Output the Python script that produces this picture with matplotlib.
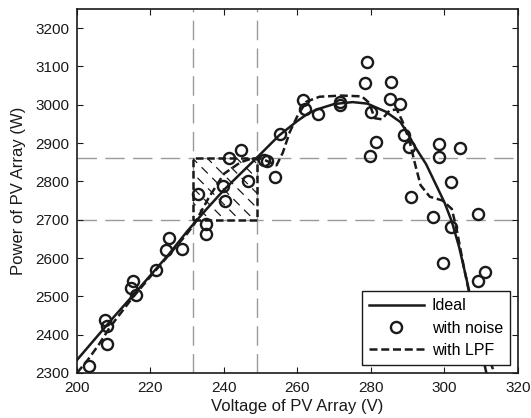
import numpy as np
import matplotlib
matplotlib.use('Agg')
import matplotlib.pyplot as plt
from matplotlib.patches import Rectangle

plt.rcParams['font.family'] = ['Liberation Sans', 'DejaVu Sans']

# --- data ---
ideal_v = [200, 205, 210, 215, 220, 225, 230, 235, 240, 245, 250, 255, 260, 263, 266,
           270, 275, 279, 284, 288, 290, 292, 295, 298, 300, 302, 304, 306, 308, 310, 311.4]
ideal_p = [2334, 2390, 2446, 2500, 2555, 2610, 2670, 2725, 2778, 2825, 2872, 2920, 2958,
           2978, 2990, 3002, 3007, 3003, 2982, 2955, 2925, 2890, 2845, 2785, 2745, 2695,
           2628, 2545, 2455, 2360, 2300]

lpf_v = [200, 203, 206, 209, 215, 220, 225, 230, 232, 236, 240, 244.5, 247, 250, 252,
         254.3, 256, 257.9, 260.1, 262.4, 266, 272, 277.5, 279.5, 281, 283, 285, 287,
         288.6, 290.5, 292, 293.5, 296, 299.5, 302, 303.3, 305.4, 306.5, 308, 310, 312, 313.6]
lpf_p = [2300, 2335, 2375, 2420, 2495, 2552, 2608, 2664, 2690, 2760, 2820, 2850, 2858,
         2860, 2852, 2842, 2875, 2929, 2973, 3008, 3021, 3024, 3022, 3005, 2965, 2962,
         2985, 2988, 2956, 2905, 2845, 2790, 2760, 2750, 2728, 2675, 2570, 2520, 2460,
         2400, 2340, 2300]

noise_v = [203.4, 208.2, 207.6, 208.2, 214.7, 215.3, 216.0, 221.4, 224.2, 225.0, 228.5,
           233.0, 235.2, 235.2, 239.8, 240.3, 241.4, 244.6, 246.6, 251.0, 251.6, 253.8,
           255.2, 261.4, 262.0, 265.6, 271.5, 271.7, 278.3, 279.0, 279.7, 279.9, 281.4,
           285.2, 285.5, 288.0, 289.0, 290.3, 291.0, 296.8, 298.4, 298.6, 299.6, 301.8,
           301.8, 304.2, 309.0, 309.0, 311.0]
noise_p = [2319, 2376, 2439, 2423, 2522, 2540, 2503, 2570, 2620, 2652, 2623,
           2766, 2690, 2662, 2787, 2749, 2861, 2883, 2802, 2856, 2852, 2811,
           2925, 3012, 2988, 2977, 3008, 2999, 3058, 3111, 2867, 2982, 2903,
           3015, 3060, 3001, 2920, 2891, 2760, 2708, 2897, 2863, 2588, 2798,
           2682, 2887, 2714, 2540, 2563]

v_marks = [231.5, 249.0]
p_marks = [2700, 2860]

# --- plotting ---
fig = plt.figure(figsize=(5.31, 4.18), dpi=100)
ax = fig.add_axes([0.145, 0.1077, 0.8305, 0.8708])
ax.set_xlim(200, 320)
ax.set_ylim(2300, 3250)

gray_dash = (0, (14, 6))
for v in v_marks:
    ax.axvline(v, color='#9a9a9a', lw=1.0, linestyle=gray_dash, zorder=1)
for p in p_marks:
    ax.axhline(p, color='#9a9a9a', lw=1.0, linestyle=gray_dash, zorder=1)

# hatched zoom box: dashed diagonal strokes clipped to the rectangle
box = Rectangle((v_marks[0], p_marks[0]), v_marks[1] - v_marks[0], p_marks[1] - p_marks[0],
                fill=False, edgecolor='#1a1a1a', lw=1.8, linestyle=(0, (3, 1.5)), zorder=2)
ax.add_patch(box)
clip = Rectangle((v_marks[0], p_marks[0]), v_marks[1] - v_marks[0], p_marks[1] - p_marks[0],
                 transform=ax.transData)
(x0, y0), (x1, y1) = ax.transData.transform([(v_marks[0], p_marks[0]), (v_marks[1], p_marks[1])])
slope = -((x1 - x0) / (v_marks[1] - v_marks[0])) / ((y1 - y0) / (p_marks[1] - p_marks[0]))
for start in np.arange(v_marks[0] - 20, v_marks[1] + 5, 4.0):
    hv = np.array([start, start + 30])
    hl, = ax.plot(hv, p_marks[1] + slope * (hv - start), color='#1a1a1a', lw=0.9,
                  linestyle=(2, (7, 5)), zorder=2)
    hl.set_clip_path(clip)

ax.plot(ideal_v, ideal_p, color='#1a1a1a', lw=1.8, label='Ideal', zorder=4)
ax.plot(noise_v, noise_p, linestyle='none', marker='o', markersize=8, mfc='none',
        mec='#1a1a1a', mew=1.7, label='with noise', zorder=5)
ax.plot(lpf_v, lpf_p, color='#1a1a1a', lw=1.8, linestyle=(0, (3.2, 1.5)),
        label='with LPF', zorder=3)

ax.set_xticks(np.arange(200, 321, 20))
ax.set_yticks(np.arange(2300, 3201, 100))
ax.tick_params(direction='in', top=True, right=True, labelsize=11, length=4, width=0.8,
               colors='#1a1a1a', pad=5.5)
for s in ax.spines.values():
    s.set_linewidth(1.2)
    s.set_color('#1a1a1a')

ax.set_xlabel('Voltage of PV Array (V)', fontsize=12, labelpad=3, color='#1a1a1a')
ax.set_ylabel('Power of PV Array (W)', fontsize=12, labelpad=7, color='#1a1a1a')

leg = ax.legend(loc='lower right', fontsize=11.5, fancybox=False, framealpha=1,
                edgecolor='#1a1a1a', handlelength=3.4, borderaxespad=0.5,
                labelspacing=0.45, handletextpad=0.5, borderpad=0.45)
leg.get_frame().set_linewidth(1.0)
leg.set_zorder(10)

fig.savefig('out.png', dpi=100)
